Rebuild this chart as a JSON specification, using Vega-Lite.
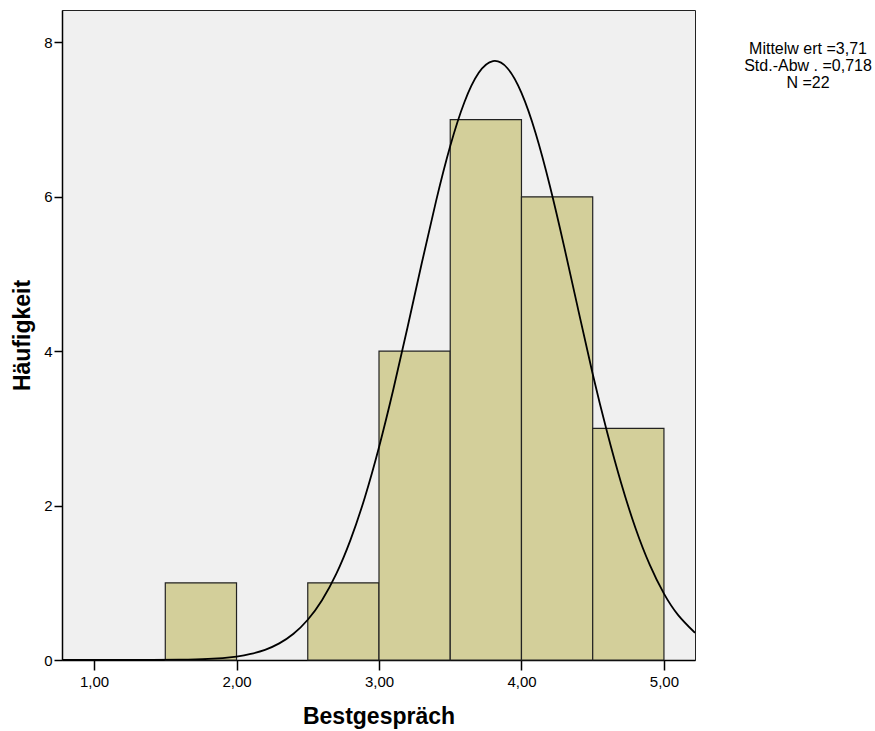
{
  "$schema": "https://vega.github.io/schema/vega-lite/v6.json",
  "width": 633,
  "height": 650,
  "autosize": "none",
  "padding": {"left": 62, "top": 10, "right": 180, "bottom": 71},
  "background": "white",
  "config": {
    "font": "Liberation Sans",
    "view": {"fill": "#F0F0F0", "stroke": "#222222", "strokeWidth": 1},
    "axis": {
      "grid": false,
      "domainColor": "#000000",
      "domainWidth": 1.5,
      "tickColor": "#000000",
      "tickWidth": 1.5,
      "labelFont": "Liberation Sans",
      "labelFontSize": 15,
      "labelColor": "#000000",
      "titleFont": "Liberation Sans",
      "titleFontSize": 23,
      "titleFontWeight": "bold",
      "titleColor": "#000000"
    }
  },
  "title": {
    "text": ["Mittelw ert =3,71", "Std.-Abw . =0,718", "N =22"],
    "orient": "top",
    "anchor": "end",
    "frame": "group",
    "align": "center",
    "baseline": "top",
    "dx": 113,
    "dy": 81,
    "offset": 0,
    "font": "Liberation Sans",
    "fontSize": 16,
    "fontWeight": "normal",
    "lineHeight": 17,
    "color": "#000000"
  },
  "datasets": {
    "bars": [
      {"bin_start": 1.5, "bin_end": 2.0, "count": 1},
      {"bin_start": 2.5, "bin_end": 3.0, "count": 1},
      {"bin_start": 3.0, "bin_end": 3.5, "count": 4},
      {"bin_start": 3.5, "bin_end": 4.0, "count": 7},
      {"bin_start": 4.0, "bin_end": 4.5, "count": 6},
      {"bin_start": 4.5, "bin_end": 5.0, "count": 3}
    ],
    "curve": [
      {"x": 0.775, "y": 0.0},
      {"x": 1.0, "y": 0.0},
      {"x": 1.2, "y": 0.0002},
      {"x": 1.4, "y": 0.0008},
      {"x": 1.6, "y": 0.0036},
      {"x": 1.8, "y": 0.0136},
      {"x": 2.0, "y": 0.045},
      {"x": 2.1, "y": 0.078},
      {"x": 2.2, "y": 0.132},
      {"x": 2.3, "y": 0.215},
      {"x": 2.4, "y": 0.34},
      {"x": 2.5, "y": 0.521},
      {"x": 2.6, "y": 0.775},
      {"x": 2.7, "y": 1.115},
      {"x": 2.8, "y": 1.556},
      {"x": 2.9, "y": 2.103},
      {"x": 3.0, "y": 2.756},
      {"x": 3.1, "y": 3.5},
      {"x": 3.2, "y": 4.308},
      {"x": 3.3, "y": 5.139},
      {"x": 3.4, "y": 5.941},
      {"x": 3.5, "y": 6.657},
      {"x": 3.6, "y": 7.228},
      {"x": 3.7, "y": 7.606},
      {"x": 3.8, "y": 7.758},
      {"x": 3.9, "y": 7.669},
      {"x": 4.0, "y": 7.346},
      {"x": 4.1, "y": 6.821},
      {"x": 4.2, "y": 6.137},
      {"x": 4.3, "y": 5.352},
      {"x": 4.4, "y": 4.523},
      {"x": 4.5, "y": 3.705},
      {"x": 4.6, "y": 2.96},
      {"x": 4.7, "y": 2.29},
      {"x": 4.8, "y": 1.71},
      {"x": 4.9, "y": 1.235},
      {"x": 5.0, "y": 0.86},
      {"x": 5.1, "y": 0.582},
      {"x": 5.218, "y": 0.352}
    ]
  },
  "layer": [
    {
      "data": {"name": "bars"},
      "mark": {"type": "rect", "fill": "#D3CF9A", "stroke": "#222222", "strokeWidth": 1.2},
      "encoding": {
        "x": {
          "field": "bin_start",
          "type": "quantitative",
          "scale": {"domain": [0.775, 5.218], "nice": false, "zero": false},
          "axis": {
            "title": "Bestgespräch",
            "values": [1, 2, 3, 4, 5],
            "labelExpr": "replace(format(datum.value, '.2f'), '.', ',')",
            "tickSize": 10,
            "labelPadding": 4,
            "titlePadding": 16
          }
        },
        "x2": {"field": "bin_end"},
        "y": {
          "field": "count",
          "type": "quantitative",
          "scale": {"domain": [0, 8.42], "nice": false},
          "axis": {
            "title": "Häufigkeit",
            "values": [0, 2, 4, 6, 8],
            "format": "d",
            "tickSize": 8,
            "labelPadding": 2,
            "titlePadding": 9
          }
        },
        "y2": {"datum": 0}
      }
    },
    {
      "data": {"name": "curve"},
      "mark": {"type": "line", "color": "#000000", "strokeWidth": 1.8, "clip": true, "interpolate": "natural"},
      "encoding": {
        "x": {"field": "x", "type": "quantitative"},
        "y": {"field": "y", "type": "quantitative"}
      }
    }
  ]
}
